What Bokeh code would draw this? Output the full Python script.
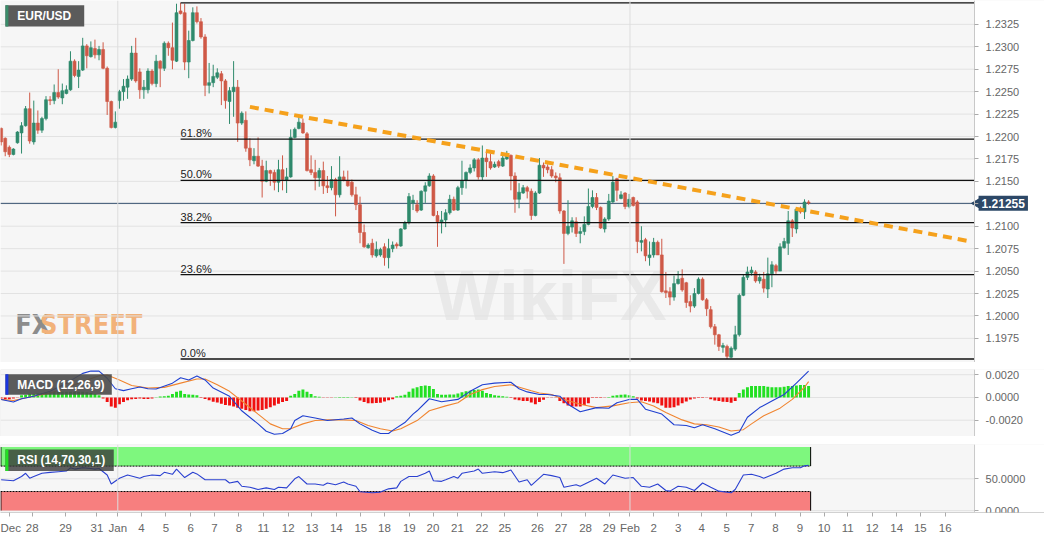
import math
from bokeh.plotting import figure
from bokeh.models import (Range1d, FixedTicker, PrintfTickFormatter, Label, BoxAnnotation, Span,
                          LinearAxis)
from bokeh.layouts import column
from bokeh.embed import file_html
from bokeh.resources import INLINE
from bokeh.core.properties import value

# ---------------- data (4H candles, EUR/USD) ----------------
opens = [1.2209,1.2198,1.2188,1.2180,1.2193,1.2204,1.2212,1.2231,1.2194,1.2215,
         1.2207,1.2220,1.2241,1.2240,1.2249,1.2243,1.2248,1.2252,1.2284,1.2267,
         1.2274,1.2301,1.2289,1.2298,1.2291,1.2297,1.2276,1.2239,1.2210,1.2240,
         1.2250,1.2255,1.2264,1.2293,1.2272,1.2252,1.2252,1.2273,1.2259,1.2284,
         1.2276,1.2304,1.2299,1.2284,1.2340,1.2338,1.2283,1.2307,1.2338,1.2328,
         1.2311,1.2257,1.2260,1.2266,1.2270,1.2262,1.2239,1.2250,1.2255,1.2215,
         1.2218,1.2187,1.2173,1.2178,1.2167,1.2150,1.2162,1.2160,1.2149,1.2163,
         1.2151,1.2155,1.2199,1.2209,1.2215,1.2203,1.2163,1.2160,1.2154,1.2162,
         1.2145,1.2143,1.2152,1.2135,1.2155,1.2151,1.2149,1.2135,1.2124,1.2093,
         1.2076,1.2081,1.2067,1.2068,1.2077,1.2065,1.2075,1.2080,1.2078,1.2097,
         1.2104,1.2126,1.2124,1.2118,1.2139,1.2145,1.2156,1.2112,1.2104,1.2107,
         1.2115,1.2130,1.2118,1.2143,1.2151,1.2160,1.2165,1.2174,1.2155,1.2176,
         1.2172,1.2166,1.2172,1.2167,1.2175,1.2179,1.2156,1.2130,1.2137,1.2143,
         1.2139,1.2112,1.2137,1.2168,1.2166,1.2163,1.2156,1.2154,1.2117,1.2092,
         1.2099,1.2105,1.2092,1.2094,1.2102,1.2122,1.2132,1.2121,1.2097,1.2108,
         1.2127,1.2153,1.2131,1.2137,1.2122,1.2132,1.2127,1.2082,1.2085,1.2065,
         1.2068,1.2082,1.2068,1.2028,1.2027,1.2021,1.2036,1.2042,1.2037,1.2016,
         1.2011,1.2025,1.2041,1.2018,1.2007,1.1988,1.1979,1.1965,1.1966,1.1954,
         1.1963,1.1979,1.2023,1.2043,1.2048,1.2049,1.2039,1.2041,1.2030,1.2047,
         1.2056,1.2050,1.2076,1.2081,1.2106,1.2097,1.2120,1.2116,1.2127]
highs = [1.2210,1.2199,1.2190,1.2187,1.2206,1.2216,1.2234,1.2249,1.2240,1.2229,
         1.2222,1.2245,1.2245,1.2258,1.2275,1.2259,1.2257,1.2295,1.2286,1.2284,
         1.2310,1.2303,1.2306,1.2308,1.2301,1.2305,1.2278,1.2240,1.2228,1.2252,
         1.2264,1.2268,1.2301,1.2310,1.2276,1.2263,1.2276,1.2275,1.2291,1.2285,
         1.2306,1.2306,1.2327,1.2348,1.2349,1.2348,1.2318,1.2344,1.2345,1.2332,
         1.2314,1.2282,1.2280,1.2276,1.2273,1.2264,1.2255,1.2284,1.2263,1.2228,
         1.2228,1.2198,1.2187,1.2199,1.2174,1.2173,1.2163,1.2163,1.2174,1.2179,
         1.2165,1.2208,1.2210,1.2222,1.2220,1.2205,1.2179,1.2174,1.2165,1.2172,
         1.2156,1.2167,1.2154,1.2178,1.2162,1.2162,1.2152,1.2144,1.2133,1.2102,
         1.2081,1.2086,1.2083,1.2076,1.2081,1.2086,1.2083,1.2082,1.2098,1.2106,
         1.2137,1.2135,1.2129,1.2140,1.2149,1.2159,1.2158,1.2117,1.2117,1.2119,
         1.2135,1.2133,1.2145,1.2173,1.2161,1.2169,1.2176,1.2176,1.2190,1.2183,
         1.2181,1.2172,1.2174,1.2179,1.2184,1.2180,1.2160,1.2148,1.2146,1.2145,
         1.2142,1.2139,1.2176,1.2171,1.2169,1.2167,1.2160,1.2159,1.2118,1.2129,
         1.2110,1.2110,1.2099,1.2111,1.2142,1.2140,1.2137,1.2122,1.2110,1.2136,
         1.2156,1.2154,1.2139,1.2138,1.2136,1.2133,1.2129,1.2100,1.2087,1.2083,
         1.2087,1.2084,1.2086,1.2049,1.2032,1.2045,1.2050,1.2052,1.2038,1.2023,
         1.2031,1.2043,1.2043,1.2020,1.2011,1.1991,1.1980,1.1970,1.1968,1.1966,
         1.1989,1.2025,1.2046,1.2055,1.2055,1.2051,1.2047,1.2049,1.2065,1.2061,
         1.2058,1.2081,1.2087,1.2117,1.2108,1.2120,1.2122,1.2130,1.2129]
lows = [1.2190,1.2178,1.2177,1.2179,1.2192,1.2181,1.2211,1.2192,1.2191,1.2203,
        1.2204,1.2218,1.2235,1.2236,1.2242,1.2236,1.2247,1.2251,1.2266,1.2254,
        1.2273,1.2276,1.2288,1.2287,1.2285,1.2275,1.2224,1.2209,1.2209,1.2231,
        1.2240,1.2242,1.2262,1.2260,1.2242,1.2242,1.2248,1.2257,1.2255,1.2255,
        1.2273,1.2290,1.2275,1.2283,1.2336,1.2274,1.2265,1.2306,1.2326,1.2309,
        1.2245,1.2248,1.2255,1.2264,1.2235,1.2231,1.2214,1.2222,1.2194,1.2213,
        1.2183,1.2167,1.2169,1.2166,1.2132,1.2149,1.2145,1.2140,1.2138,1.2140,
        1.2137,1.2154,1.2198,1.2208,1.2203,1.2161,1.2157,1.2140,1.2144,1.2136,
        1.2137,1.2140,1.2111,1.2132,1.2150,1.2144,1.2133,1.2118,1.2081,1.2076,
        1.2075,1.2065,1.2065,1.2066,1.2056,1.2053,1.2071,1.2075,1.2077,1.2096,
        1.2102,1.2118,1.2115,1.2117,1.2126,1.2144,1.2111,1.2077,1.2092,1.2099,
        1.2113,1.2117,1.2117,1.2135,1.2142,1.2158,1.2161,1.2152,1.2151,1.2155,
        1.2163,1.2165,1.2165,1.2166,1.2174,1.2140,1.2115,1.2120,1.2136,1.2131,
        1.2107,1.2111,1.2136,1.2155,1.2159,1.2154,1.2149,1.2114,1.2058,1.2090,
        1.2093,1.2088,1.2081,1.2090,1.2101,1.2120,1.2118,1.2097,1.2093,1.2106,
        1.2126,1.2128,1.2130,1.2119,1.2120,1.2122,1.2070,1.2072,1.2061,1.2056,
        1.2065,1.2068,1.2026,1.2020,1.2012,1.2017,1.2035,1.2027,1.2009,1.2004,
        1.2009,1.2024,1.2017,1.2000,1.1986,1.1968,1.1961,1.1959,1.1952,1.1953,
        1.1961,1.1977,1.2022,1.2040,1.2045,1.2037,1.2036,1.2026,1.2020,1.2032,
        1.2047,1.2050,1.2075,1.2068,1.2088,1.2092,1.2114,1.2108,1.2124]
closes = [1.2194,1.2183,1.2180,1.2186,1.2205,1.2212,1.2231,1.2195,1.2215,1.2207,
          1.2220,1.2241,1.2240,1.2249,1.2244,1.2251,1.2252,1.2284,1.2268,1.2274,
          1.2301,1.2290,1.2299,1.2291,1.2297,1.2276,1.2239,1.2210,1.2216,1.2250,
          1.2256,1.2264,1.2293,1.2262,1.2252,1.2255,1.2273,1.2259,1.2284,1.2276,
          1.2304,1.2299,1.2285,1.2338,1.2337,1.2283,1.2307,1.2338,1.2328,1.2311,
          1.2257,1.2260,1.2267,1.2271,1.2262,1.2240,1.2251,1.2255,1.2215,1.2226,
          1.2187,1.2174,1.2178,1.2167,1.2150,1.2162,1.2159,1.2149,1.2163,1.2152,
          1.2155,1.2199,1.2208,1.2216,1.2204,1.2162,1.2160,1.2154,1.2162,1.2145,
          1.2143,1.2152,1.2135,1.2155,1.2151,1.2145,1.2135,1.2124,1.2093,1.2077,
          1.2079,1.2068,1.2074,1.2074,1.2065,1.2075,1.2079,1.2078,1.2097,1.2104,
          1.2133,1.2129,1.2117,1.2139,1.2145,1.2156,1.2112,1.2105,1.2107,1.2115,
          1.2130,1.2118,1.2143,1.2151,1.2160,1.2165,1.2174,1.2155,1.2176,1.2172,
          1.2165,1.2169,1.2167,1.2176,1.2179,1.2156,1.2130,1.2138,1.2143,1.2139,
          1.2112,1.2137,1.2168,1.2165,1.2163,1.2156,1.2154,1.2117,1.2092,1.2100,
          1.2106,1.2092,1.2094,1.2102,1.2122,1.2132,1.2121,1.2098,1.2108,1.2128,
          1.2149,1.2140,1.2135,1.2122,1.2130,1.2123,1.2083,1.2084,1.2067,1.2068,
          1.2082,1.2068,1.2027,1.2026,1.2021,1.2036,1.2041,1.2029,1.2015,1.2011,
          1.2025,1.2041,1.2018,1.2008,1.1988,1.1979,1.1966,1.1967,1.1955,1.1964,
          1.1979,1.2023,1.2043,1.2049,1.2051,1.2039,1.2043,1.2031,1.2047,1.2057,
          1.2050,1.2077,1.2083,1.2106,1.2098,1.2119,1.2116,1.2127,1.2126]

last_price = 1.21255
price_ticks = [1.1975, 1.2000, 1.2025, 1.2050, 1.2075, 1.2100, 1.2125, 1.2150,
               1.2175, 1.2200, 1.2225, 1.2250, 1.2275, 1.2300, 1.2325]
macd_ticks = [-0.002, 0.0, 0.002]
rsi_ticks = [0, 50]

fib_labels = ["0.0%", "23.6%", "38.2%", "50.0%", "61.8%", ""]
fib_prices = [1.1952, 1.2046, 1.2104, 1.2151, 1.2197, 1.2349]
fib_start = 44          # candle index of the swing high

trend_x = [61.0, 237.8]
trend_y = [1.2233, 1.2083]

macd_x = [0,3,5,8,12,16,20,22,24,26,28,30,32,34,36,38,42,44,46,48,50,52,56,59,63,65,67,69,71,72,
          74,77,80,84,86,88,91,93,95,96,99,101,102,105,108,112,115,118,121,125,127,129,132,134,137,
          139,142,146,149,151,154,156,158,162,165,168,170,172,175,179,181,183,186,189,192,195,198]
macd_v = [-0.00017,-0.0004,-0.00011,0.00011,0.00054,0.00126,0.00212,0.00232,0.00232,0.00169,
          0.00077,0.0006,0.00077,0.00092,0.00077,0.00074,0.00126,0.00174,0.00154,0.00189,
          0.00154,0.00083,0.00011,-0.00117,-0.00232,-0.00297,-0.00323,-0.00317,-0.00275,-0.00203,
          -0.0016,-0.0018,-0.00203,-0.00189,-0.0018,-0.00232,-0.00289,-0.00317,-0.00317,-0.00289,
          -0.0022,-0.00146,-0.00117,-0.00011,-0.00037,-0.00017,0.00054,0.00112,0.00126,0.00134,
          0.00077,0.00049,0.00026,0.00026,0.00011,-0.0006,-0.00126,-0.00089,-0.00094,-0.00046,
          -0.00017,-0.00017,-0.00103,-0.00146,-0.0024,-0.00246,-0.00266,-0.0024,-0.00275,-0.00332,
          -0.00303,-0.00174,-0.00089,-0.00031,0.00026,0.00126,0.00232]
signal_x = [0,3,8,12,16,20,24,26,29,32,36,40,44,48,50,53,56,59,63,66,69,71,74,77,80,84,87,90,93,96,
            98,102,105,109,112,115,118,121,125,130,132,135,138,142,146,150,154,157,160,163,
            167,170,173,176,179,182,184,187,191,194,197,198]
signal_v = [-0.00017,-0.00026,0.00011,0.0004,0.00083,0.0014,0.00192,0.00197,0.00154,0.00106,
            0.00083,0.00089,0.00126,0.00163,0.00163,0.00112,0.00054,-0.00031,-0.00146,-0.00232,
            -0.00275,-0.00275,-0.00232,-0.00203,-0.00197,-0.00197,-0.00203,-0.00246,-0.00275,-0.00295,
            -0.00275,-0.00203,-0.00117,-0.00074,-0.00046,0.00026,0.00069,0.00097,0.00112,0.0006,
            0.0004,0.00026,-0.00017,-0.0006,-0.00089,-0.00074,-0.00046,-0.00037,-0.00074,-0.00132,
            -0.00197,-0.00232,-0.0024,-0.0026,-0.00295,-0.00283,-0.00232,-0.0016,-0.00094,-0.00017,
            0.0009,0.0014]
hist_pips = [-1,-1.5,-1.5,-1,-0.3,
             2,2.5,3,3,3.5,4,4.5,5,5,5,5,5,5,5,5,5,4.5,4,3,2,
             -1,-4,-8,-9,-6,-4,-2.5,-1.5,-1.4,-1,-1.4,-1.4,-1,
             0.3,0.8,1,1.5,3,5,6,3,2.6,2.5,2,
             -0.5,-1.4,-2.5,-3.7,-4.5,-5.5,-6.5,-7,-8,-9,-10,-11,-12,-12,-11.5,-11,-10,-8.5,-7,-5.5,-4,-3,
             1.5,3,6,7,5,3,1.1,0.6,
             -0.3,-0.2,-0.3,0.2,0.4,0.5,0.5,0.3,-0.5,
             -2.6,-4,-5,-5,-4.8,-4.6,-3.5,-2.5,-1.5,
             1,1.5,2.5,5,8,9,10,10.5,10,7.5,
             3,2.5,2.5,2.6,2.6,3.5,4.5,5.5,6,6.5,7,6,4,3,2,1.5,1.1,0.6,
             -0.5,-1.7,-2.5,-3,-3,-4.5,-6,-4,-2,
             -0.3,-0.3,-0.3,
             -3,-5,-7,-8,-8,-8,-6.5,-5,
             -0.5,-0.5,-0.5,-0.3,0.5,
             1.5,2,2.4,2.6,2,1.1,
             -1,-2.6,-3,-3.5,-4.5,-5,-7,-9,-9,-8.5,-7,-5,-3.5,-1.7,-1,
             -0.5,-0.4,-0.3,-1.5,-2.6,-3,-3.7,-4,-4.6,-3,
             4,7,9,10,10,10,10,9.5,9,9,9,9.5,10,10,10.5,11,11,10]

rsi_x = [0,3,5,6,7,8,10,12,14,16,17,18,20,22,23,24,26,27,29,31,34,35,37,39,40,42,43,45,47,48,
         50,52,55,56,58,59,61,63,65,67,68,70,72,73,75,77,79,80,82,84,85,87,88,91,93,95,97,98,100,102,
         104,105,106,108,109,111,112,113,116,117,118,121,123,125,127,129,130,133,135,137,
         138,141,142,146,148,150,153,155,157,159,161,163,164,166,168,170,172,174,176,179,
         180,182,184,186,187,190,192,194,196,197,198]
rsi_v = [48.5,47,53.6,58.7,51,53.6,58.7,60.2,61.2,62.2,67.3,65.3,67.3,66.3,65.3,66.3,56,41.8,51,56,
         51,53.6,56,55,60.2,57.1,65.3,52,60.2,57.7,48.5,48.5,48.5,43.4,46,38.3,36.7,33.2,35.7,33.2,
         36.7,35.7,50,53.6,41.8,41.8,39.8,43.4,40.8,44.9,41.8,38.3,29.6,28.1,29.1,34.2,35.7,46,53.6,53.6,
         58.7,62.2,47,46,48.5,53.6,51,58.7,62.2,65.3,58.7,61.2,59.7,63.8,44.9,48.5,39.8,57.1,55,52,
         36.7,40.8,38.3,51,41.8,56,51,52,38.3,36.7,41.8,31.6,30.6,38.3,36.7,31.6,43.4,36.7,30.6,28.1,
         33.2,56,57.1,53.6,51,58.7,65.3,67.3,67.3,70.4,71.4]
rsi_upper, rsi_lower = 70, 30

day_pos = [2.1,7.6,15.8,23.5,28.6,34.4,40.4,46.5,52.3,58.3,64.3,70.4,76.2,82.2,88.2,94.0,100.1,105.9,
           111.9,117.9,123.5,131.5,137.3,143.3,149.1,154.2,160.0,166.0,171.8,177.9,183.9,189.9,195.9,
           201.8,207.6,213.6,219.6,225.4,231.5]
day_lbl = ["Dec","28","29","31","Jan","4","5","6","7","8","11","12","13","14","15","18","19","20",
           "21","22","25","26","27","28","29","Feb","2","3","4","5","7","8","9","10","11","12","14","15","16"]
month_names = ["Jan", "Feb"]

# ---------------- layout constants ----------------
FW = 1044                       # frame spans the whole width; price axis pinned inside
X0, X1 = -0.16, 238.7           # chart area (candle index units)
XE = X0 + (X1 - X0) * 1060.0 / 989.0
P0, P1 = 1.19481, 1.23516
M0, M1 = -0.00343, 0.00246
R0, R1 = -3.0, 104.0
BG = "#f6f6f6"
UP, DN = "#2f8a6c", "#cf5947"
FONT = "Liberation Sans"
NARROW = "'DejaVu Sans Condensed', 'Liberation Sans Narrow', 'Liberation Sans', sans-serif"
xr = Range1d(X0, XE)

def mx(px):
    return X0 + (X1 - X0) * px / 989.0

def py_to(py, lo, hi, top, h):
    return hi - (hi - lo) * (py - top) / h

n = len(closes)
idx = list(range(n))
ccol = [UP if c >= o else DN for o, c in zip(opens, closes)]
btop = [max(o, c) for o, c in zip(opens, closes)]
bbot = [min(o, c) for o, c in zip(opens, closes)]
month_pos = [p for p, l in zip(day_pos, day_lbl) if l in month_names]


def make_fig(h, yr, top_border, bottom_border, xaxis):
    p = figure(frame_width=FW, frame_height=h, x_range=xr, y_range=yr,
               x_axis_location="below" if xaxis else None, y_axis_location=None,
               toolbar_location=None, output_backend="svg",
               min_border_left=0, min_border_right=0, min_border_top=top_border,
               min_border_bottom=bottom_border, background_fill_color=BG,
               border_fill_color="white", outline_line_color=None)
    p.xgrid.visible = False
    p.ygrid.visible = False
    # white strip for the price scale
    p.add_layout(BoxAnnotation(left=X1, fill_color="white", fill_alpha=1, line_color=None,
                               level="underlay"))
    return p


def add_scale(p, ticks):
    ax = LinearAxis(fixed_location=X1, ticker=FixedTicker(ticks=ticks),
                    formatter=PrintfTickFormatter(format="%.4f"))
    ax.major_label_text_font_size = "11px"
    ax.major_label_text_color = "#666666"
    ax.major_label_text_font = FONT
    ax.major_label_standoff = 7
    ax.axis_line_color = "#c8c8c8"
    ax.major_tick_line_color = "#aaaaaa"
    ax.major_tick_out = 4
    ax.major_tick_in = 0
    ax.minor_tick_line_color = None
    p.add_layout(ax, "right")
    # horizontal grid over the chart area only
    p.segment(x0=[X0] * len(ticks), x1=[X1] * len(ticks), y0=ticks, y1=ticks,
              line_color="#e2e2e2", line_width=1)
    for m in month_pos:
        p.add_layout(Span(location=m, dimension="height", line_color="#dddddd", line_width=1))


def tag(p, left_px, right_px, top, bottom, text, stripe, fill, alpha, ymid):
    p.add_layout(BoxAnnotation(left=mx(left_px), right=mx(right_px), top=top, bottom=bottom,
                               fill_color=fill, fill_alpha=alpha, line_color=None, level="overlay"))
    p.add_layout(BoxAnnotation(left=mx(left_px), right=mx(left_px + 3), top=top, bottom=bottom,
                               fill_color=stripe, fill_alpha=1, line_color=None, level="overlay"))
    p.add_layout(Label(x=mx(left_px + 12), y=ymid, text=text, text_baseline="middle",
                       text_font=FONT, text_font_size="12px", text_font_style="bold",
                       text_color="white", level="overlay"))


# ---------------- main price panel ----------------
main = make_fig(362, Range1d(P0, P1), 0, 0, False)
add_scale(main, price_ticks)

def my(py):
    return py_to(py, P0, P1, 0, 375.0)

# watermarks
main.add_layout(Label(x=mx(440), y=my(347), text="WikiFX", text_font=FONT, text_font_size="70px",
                      text_font_style="bold", text_color="#888888", text_alpha=0.12, level="underlay"))
main.add_layout(Label(x=mx(15), y=my(352), text="FX", text_font=NARROW,
                      text_font_size="27px", text_font_style="bold", text_color="#8c8c8c",
                      level="underlay"))
main.add_layout(Label(x=mx(40), y=my(352), text="STREET", text_font=NARROW,
                      text_font_size="27px", text_font_style="bold", text_color="#f2b27a",
                      level="underlay"))

main.segment(x0=[X0], x1=[X1], y0=[last_price], y1=[last_price], line_color="#34506e", line_width=1)

main.segment(x0=idx, y0=lows, x1=idx, y1=highs, line_color=ccol, line_width=1)
main.vbar(x=idx, top=btop, bottom=bbot, width=0.72, fill_color=ccol, line_color=ccol, line_width=0.6)

main.segment(x0=[fib_start] * len(fib_prices), x1=[X1] * len(fib_prices), y0=fib_prices,
             y1=fib_prices, line_color="#111111", line_width=1.3)
main.text(x=[fib_start] * len(fib_prices), y=fib_prices, text=fib_labels, text_baseline="bottom",
          text_font=value(FONT), text_font_size="11px", text_color="#222222")

main.line(trend_x, trend_y, line_color="#f5a11c", line_width=4, line_dash="9 6")

tag(main, 5, 85, my(5), my(27), "EUR/USD", "#3a8c6a", "#5b5b5b", 1.0, my(16))

# last-price tag on the price scale
main.scatter(x=[X1 + (XE - X1) * 2.0 / 71.0], y=[last_price], marker="triangle", angle=math.pi / 2,
             size=9, fill_color="#2d4867", line_color="#2d4867")
main.add_layout(Label(x=X1, y=last_price, x_offset=4, text="{:.5f}".format(last_price),
                      text_baseline="middle", text_font=FONT, text_font_size="12px",
                      text_font_style="bold", text_color="white",
                      background_fill_color="#2d4867", padding=3, level="overlay"))

# ---------------- MACD panel ----------------
macd = make_fig(67, Range1d(M0, M1), 7, 0, False)
add_scale(macd, macd_ticks)
hist = [h * 1e-4 for h in hist_pips]
hcol = ["#22e022" if h >= 0 else "#f01010" for h in hist]
macd.vbar(x=idx, top=hist, bottom=0, width=0.72, fill_color=hcol, line_color=None)
macd.line(signal_x, signal_v, line_color="#f08530", line_width=1.1)
macd.line(macd_x, macd_v, line_color="#2040d0", line_width=1.1)
macd.add_layout(BoxAnnotation(left=X0, right=X1, fill_alpha=0, line_color="#d2d2d2", line_width=1))

def mm(py):
    return py_to(py, M0, M1, 382, 69.0)

tag(macd, 5, 113, mm(387), mm(408), "MACD (12,26,9)", "#1a35e0", "#4a4a4a", 0.9, mm(397.5))

# ---------------- RSI panel ----------------
rsi = make_fig(68, Range1d(R0, R1), 8, 27, True)
add_scale(rsi, rsi_ticks)
band_end = n - 0.5
rsi.quad(left=[X0, X0], right=[band_end, band_end], bottom=[rsi_upper, 0], top=[100, rsi_lower],
         fill_color=["#7ef77e", "#f77f7f"], line_color=None)
rsi.segment(x0=[X0, X0], x1=[band_end, band_end], y0=[rsi_upper, rsi_lower],
            y1=[rsi_upper, rsi_lower], line_color="black", line_width=1, line_dash="2 1")
rsi.segment(x0=[band_end, band_end, X0 + 0.1, X0 + 0.1], x1=[band_end, band_end, X0 + 0.1, X0 + 0.1],
            y0=[rsi_upper, 0, rsi_upper, 0], y1=[100, rsi_lower, 100, rsi_lower],
            line_color="black", line_width=1)
rsi.line(rsi_x, rsi_v, line_color="#2a40d0", line_width=1.1)
rsi.add_layout(BoxAnnotation(left=X0, right=X1, fill_alpha=0, line_color="#d2d2d2", line_width=1))

def rm(py):
    return py_to(py, R0, R1, 460, 69.5)

tag(rsi, 5, 115, rm(465), rm(487), "RSI (14,70,30,1)", "#22e022", "#3a3a3a", 0.8, rm(476))

rsi.xaxis.ticker = FixedTicker(ticks=day_pos)
rsi.xaxis.major_label_overrides = {p: l for p, l in zip(day_pos, day_lbl)}
rsi.xaxis.major_label_text_font_size = "11.5px"
rsi.xaxis.major_label_text_color = "#666666"
rsi.xaxis.major_label_text_font = FONT
rsi.xaxis.axis_line_color = "#d2d2d2"
rsi.xaxis.major_tick_line_color = "#aaaaaa"
rsi.xaxis.major_tick_out = 4
rsi.xaxis.major_tick_in = 0
rsi.xaxis.minor_tick_line_color = None

layout = column(main, macd, rsi, spacing=0)
open("out.html", "w").write(file_html(layout, INLINE))
